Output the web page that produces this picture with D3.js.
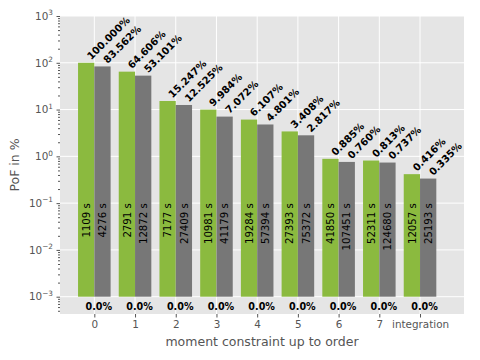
<!DOCTYPE html>
<html>
<head>
<meta charset="utf-8">
<script src="https://cdn.jsdelivr.net/npm/d3@7"></script>
<style>
  html, body { margin: 0; padding: 0; background: #ffffff; }
  svg { display: block; font-family: "DejaVu Sans", sans-serif; }
</style>
</head>
<body>
<svg id="chart" width="480" height="360"></svg>
<script>
const categories = ["0", "1", "2", "3", "4", "5", "6", "7", "integration"];
const pofGreen = [100.000, 64.606, 15.247, 9.984, 6.107, 3.408, 0.885, 0.813, 0.416];
const pofGray  = [83.562, 53.101, 12.525, 7.072, 4.801, 2.817, 0.760, 0.737, 0.335];
const timeGreen = [1109, 2791, 7177, 10981, 19284, 27393, 41850, 52311, 12057];
const timeGray  = [4276, 12872, 27409, 41179, 57394, 75372, 107451, 124680, 25193];
const zeroLabels = ["0.0%", "0.0%", "0.0%", "0.0%", "0.0%", "0.0%", "0.0%", "0.0%", "0.0%"];
const yTickExps = [-3, -2, -1, 0, 1, 2, 3];
const yLabel = "PoF in %";
const xLabel = "moment constraint up to order";

const svg = d3.select("#chart");
const L = 60, R = 464, T = 16, B = 314;
const green = "#8bba3f", gray = "#777777", tickColor = "#555555";

const x = d3.scaleLinear().domain([-0.843, 9.08]).range([L, R]);
const y = d3.scaleLog().domain([Math.pow(10, -3.37), 1000]).range([B, T]);
const barW = x(0.4) - x(0);
const base = 1e-3;

// background
svg.append("rect").attr("x", L).attr("y", T).attr("width", R - L).attr("height", B - T).attr("fill", "#e5e5e5");

// grid
const majors = yTickExps.map(e => Math.pow(10, e));
svg.append("g").selectAll("line").data(majors).join("line")
  .attr("x1", L).attr("x2", R).attr("y1", d => y(d)).attr("y2", d => y(d))
  .attr("stroke", "#ffffff").attr("stroke-width", 1);
svg.append("g").selectAll("line").data(categories.map((c, i) => i)).join("line")
  .attr("y1", T).attr("y2", B).attr("x1", d => x(d)).attr("x2", d => x(d))
  .attr("stroke", "#ffffff").attr("stroke-width", 1);

// bars
const idx = categories.map((c, i) => i);
svg.append("g").selectAll("rect").data(idx).join("rect")
  .attr("x", i => x(i - 0.4)).attr("width", barW)
  .attr("y", i => y(pofGreen[i])).attr("height", i => y(base) - y(pofGreen[i]))
  .attr("fill", green);
svg.append("g").selectAll("rect").data(idx).join("rect")
  .attr("x", i => x(i)).attr("width", barW)
  .attr("y", i => y(pofGray[i])).attr("height", i => y(base) - y(pofGray[i]))
  .attr("fill", gray);

// percentage labels (rotated 45)
function pctLabels(vals, off) {
  svg.append("g").selectAll("text").data(idx).join("text")
    .attr("transform", i => `translate(${x(i + off) + 5.0},${y(vals[i]) - 2.5}) rotate(-45)`)
    .attr("font-size", 10).attr("font-weight", "bold").attr("fill", "#000")
    .text(i => vals[i].toFixed(3) + "%");
}
pctLabels(pofGreen, -0.2);
pctLabels(pofGray, 0.2);

// time labels (rotated 90)
function timeLabels(vals, off) {
  svg.append("g").selectAll("text").data(idx).join("text")
    .attr("transform", i => `translate(${x(i + off)},${y(0.1)}) rotate(-90)`)
    .attr("text-anchor", "end").attr("dy", "0.36em")
    .attr("font-size", 10.2).attr("fill", "#000")
    .text(i => vals[i] + " s");
}
timeLabels(timeGreen, -0.2);
timeLabels(timeGray, 0.2);

// zero labels
svg.append("g").selectAll("text").data(idx).join("text")
  .attr("x", i => x(i + 0.11)).attr("y", y(base) + 13.5)
  .attr("text-anchor", "middle").attr("font-size", 9.6).attr("font-weight", "bold").attr("fill", "#000")
  .text(i => zeroLabels[i]);

// x axis
const xAxis = d3.axisBottom(x).tickValues(idx).tickFormat(i => categories[i]).tickSize(3.5).tickPadding(3.5);
const gx = svg.append("g").attr("transform", `translate(0,${B})`).call(xAxis);
gx.select(".domain").remove();
gx.selectAll("line").attr("stroke", tickColor);
gx.selectAll("text").attr("fill", tickColor).attr("font-size", 10.4).attr("font-family", "DejaVu Sans");

// y axis major
const yAxis = d3.axisLeft(y).tickValues(majors).tickFormat(() => "").tickSize(3.5);
const gy = svg.append("g").attr("transform", `translate(${L},0)`).call(yAxis);
gy.select(".domain").remove();
gy.selectAll("line").attr("stroke", tickColor);

// y minor ticks
const minors = [];
for (let e = -4; e < 3; e++) for (let m = 2; m <= 9; m++) {
  const v = m * Math.pow(10, e);
  if (v >= y.domain()[0] && v <= 1000) minors.push(v);
}
const gym = svg.append("g").attr("transform", `translate(${L},0)`)
  .call(d3.axisLeft(y).tickValues(minors).tickFormat(() => "").tickSize(2));
gym.select(".domain").remove();
gym.selectAll("line").attr("stroke", tickColor);

// y tick labels with superscript
const yl = svg.append("g").selectAll("text").data(yTickExps).join("text")
  .attr("x", L - 7).attr("y", e => y(Math.pow(10, e))).attr("dy", "0.36em")
  .attr("text-anchor", "end").attr("font-size", 10.4).attr("fill", tickColor);
yl.append("tspan").text("10");
yl.append("tspan").attr("font-size", 7.3).attr("dy", "-0.6em")
  .text(e => (e < 0 ? "\u2212" + (-e) : String(e)));

// axis labels
svg.append("text").attr("transform", `translate(19,${(T + B) / 2}) rotate(-90)`)
  .attr("text-anchor", "middle").attr("font-size", 12.5).attr("fill", tickColor).text(yLabel);
svg.append("text").attr("x", (L + R) / 2).attr("y", 346)
  .attr("text-anchor", "middle").attr("font-size", 12.5).attr("fill", tickColor).text(xLabel);
</script>
</body>
</html>
